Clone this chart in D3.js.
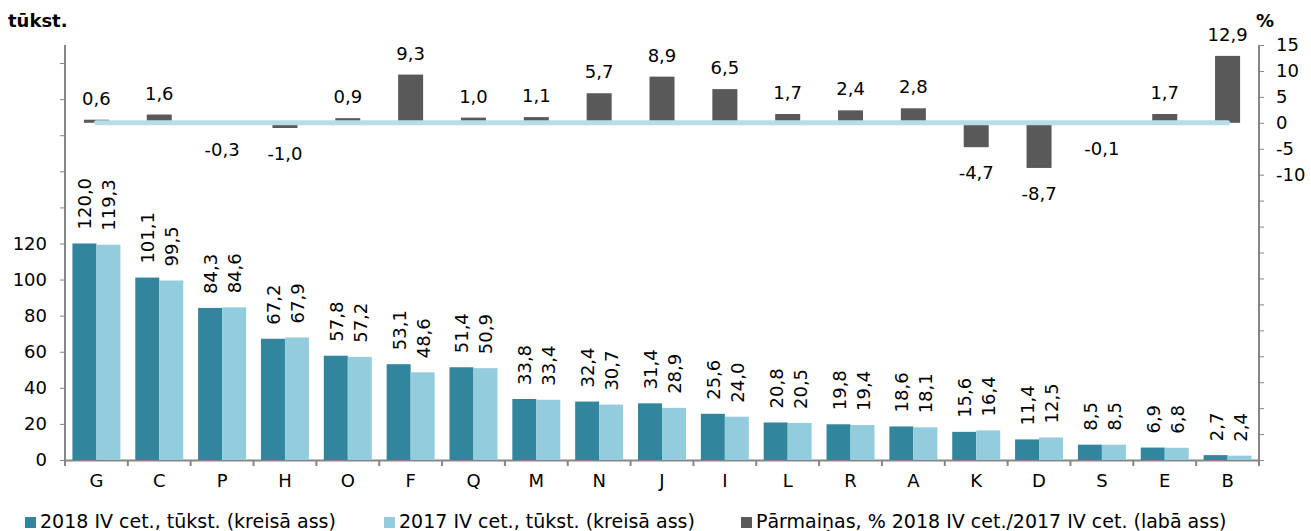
<!DOCTYPE html>
<html>
<head>
<meta charset="utf-8">
<script src="https://cdn.jsdelivr.net/npm/d3@7"></script>
<style>
  body { margin: 0; background: #fff; }
  text { font-family: "DejaVu Sans", Verdana, sans-serif; fill: #000; }
  .axis path, .axis line { stroke: #868686; }
</style>
</head>
<body>
<svg id="chart" width="1311" height="531"></svg>
<script>
// categories and values
var categories = ["G", "C", "P", "H", "O", "F", "Q", "M", "N", "J", "I", "L", "R", "A", "K", "D", "S", "E", "B"];
var values2018 = [120.0, 101.1, 84.3, 67.2, 57.8, 53.1, 51.4, 33.8, 32.4, 31.4, 25.6, 20.8, 19.8, 18.6, 15.6, 11.4, 8.5, 6.9, 2.7];
var values2017 = [119.3, 99.5, 84.6, 67.9, 57.2, 48.6, 50.9, 33.4, 30.7, 28.9, 24.0, 20.5, 19.4, 18.1, 16.4, 12.5, 8.5, 6.8, 2.4];
var changes = [0.6, 1.6, -0.3, -1.0, 0.9, 9.3, 1.0, 1.1, 5.7, 8.9, 6.5, 1.7, 2.4, 2.8, -4.7, -8.7, -0.1, 1.7, 12.9];
var zeroLine = [0, 0, 0, 0, 0, 0, 0, 0, 0, 0, 0, 0, 0, 0, 0, 0, 0, 0, 0];
var leftTicks = [0, 20, 40, 60, 80, 100, 120, 140, 160, 180, 200, 220];
var leftLabels = [0, 20, 40, 60, 80, 100, 120];
var rightTicks = [-65, -60, -55, -50, -45, -40, -35, -30, -25, -20, -15, -10, -5, 0, 5, 10, 15];
var rightLabels = [-10, -5, 0, 5, 10, 15];
var seriesNames = ["2018 IV cet., tūkst. (kreisā ass)", "2017 IV cet., tūkst. (kreisā ass)", "Pārmaiņas, % 2018 IV cet./2017 IV cet. (labā ass)"];
var colors = ["#31859c", "#93cddd", "#595959"];

var fmt = function(v) { return v.toFixed(1).replace(".", ","); };

var svg = d3.select("#chart");
var pLeft = 65, pRight = 1259, pTop = 45, pBottom = 460;

var x = d3.scaleBand().domain(categories).range([pLeft, pRight]);
var xIn = d3.scaleBand().domain([0, 1]).range([0, x.bandwidth()]).paddingOuter(0.31).paddingInner(0);
var yL = d3.scaleLinear().domain([0, 230]).range([pBottom, pTop]);
var yR = d3.scaleLinear().domain([-65, 15]).range([pBottom, pTop]);

// left axis
var gL = svg.append("g").attr("class", "axis").attr("transform", "translate(" + pLeft + ",0)")
  .call(d3.axisLeft(yL).tickValues(leftTicks).tickSize(5).tickSizeOuter(0).tickPadding(13)
    .tickFormat(function(d) { return leftLabels.indexOf(d) >= 0 ? d : ""; }));
gL.selectAll("text").style("font-size", "18px");
gL.select(".domain").attr("d", "M0," + pBottom + "V" + pTop).attr("stroke-width", 2);

// right axis
var gR = svg.append("g").attr("class", "axis").attr("transform", "translate(" + pRight + ",0)")
  .call(d3.axisRight(yR).tickValues(rightTicks).tickSize(5).tickSizeOuter(0).tickPadding(12)
    .tickFormat(function(d) { return rightLabels.indexOf(d) >= 0 ? d : ""; }));
gR.selectAll("text").style("font-size", "18px");
gR.select(".domain").attr("d", "M0," + pBottom + "V" + pTop).attr("stroke-width", 2);

// bottom axis, ticks at band edges
var gX = svg.append("g").attr("class", "axis").attr("transform", "translate(0," + pBottom + ")")
  .call(d3.axisBottom(x).tickSize(0).tickPadding(14));
gX.selectAll("text").style("font-size", "18px");
gX.selectAll(".edge").data(categories.concat(["end"])).enter().append("line")
  .attr("x1", function(d, i) { return pLeft + i * x.step(); })
  .attr("x2", function(d, i) { return pLeft + i * x.step(); })
  .attr("y1", 0).attr("y2", 6).attr("stroke", "#868686").attr("stroke-width", 2);
gX.select(".domain").attr("stroke-width", 2);

// clustered bars
var sets = [values2018, values2017];
sets.forEach(function(vals, s) {
  svg.append("g").selectAll("rect").data(vals).enter().append("rect")
    .attr("x", function(d, i) { return x(categories[i]) + xIn(s); })
    .attr("width", xIn.bandwidth())
    .attr("y", function(d) { return yL(d); })
    .attr("height", function(d) { return yL(0) - yL(d); })
    .attr("fill", colors[s]);

  svg.append("g").selectAll("text").data(vals).enter().append("text")
    .attr("transform", function(d, i) {
      var cx = x(categories[i]) + xIn(s) + xIn.bandwidth() / 2;
      return "translate(" + (cx + 7) + "," + (yL(d) - 14) + ") rotate(-90)";
    })
    .style("font-size", "18px")
    .text(fmt);
});

// change bars on right axis
var cw = 25;
svg.append("g").selectAll("rect").data(changes).enter().append("rect")
  .attr("x", function(d, i) { return x(categories[i]) + x.bandwidth() / 2 - cw / 2; })
  .attr("width", cw)
  .attr("y", function(d) { return yR(Math.max(0, d)); })
  .attr("height", function(d) { return Math.abs(yR(d) - yR(0)); })
  .attr("fill", colors[2]);

svg.append("g").selectAll("text").data(changes).enter().append("text")
  .attr("x", function(d, i) { return x(categories[i]) + x.bandwidth() / 2; })
  .attr("y", function(d) { return d >= 0 ? yR(d) - 15 : yR(d) + 32; })
  .attr("text-anchor", "middle")
  .style("font-size", "18px")
  .text(fmt);

// zero line series
var line = d3.line()
  .x(function(d, i) { return x(categories[i]) + x.bandwidth() / 2; })
  .y(function(d) { return yR(d); });
svg.append("path").datum(zeroLine).attr("d", line)
  .attr("fill", "none").attr("stroke", "#b7dee8").attr("stroke-width", 5).attr("stroke-linecap", "round");

// titles
svg.append("text").attr("x", 8).attr("y", 27).style("font-size", "18px").style("font-weight", "bold").text("tūkst.");
svg.append("text").attr("x", 1256).attr("y", 27).style("font-size", "18px").style("font-weight", "bold").text("%");

// legend
var legendX = [25, 384, 741];
var lg = svg.append("g").selectAll("g").data(seriesNames).enter().append("g")
  .attr("transform", function(d, i) { return "translate(" + legendX[i] + ",528)"; });
lg.append("rect").attr("x", 0).attr("y", -11).attr("width", 11).attr("height", 11)
  .attr("fill", function(d, i) { return colors[i]; });
lg.append("text").attr("x", 15).attr("y", 0).style("font-size", "19px").text(function(d) { return d; });
</script>
</body>
</html>
